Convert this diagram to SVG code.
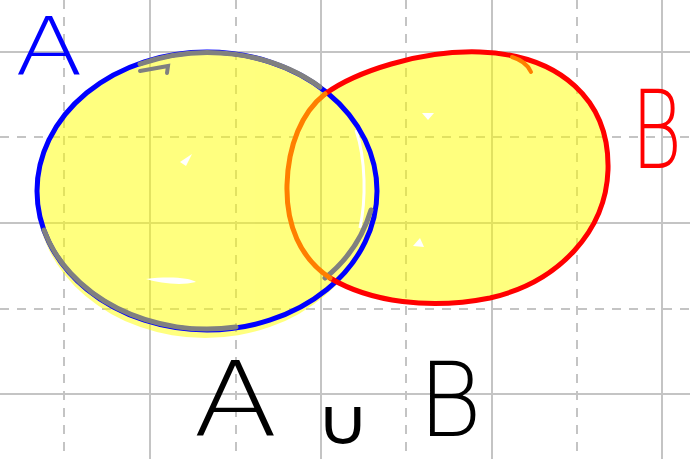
<svg xmlns="http://www.w3.org/2000/svg" width="690" height="459" viewBox="0 0 690 459">
<style>
.g{stroke:#c4c4c4;stroke-width:2;fill:none}
.d{stroke:#c4c4c4;stroke-width:2;fill:none;stroke-dasharray:9 8}
.lbl{font-family:"DejaVu Sans","Liberation Sans",sans-serif;font-weight:200}
</style>
<rect width="690" height="459" fill="#ffffff"/>
<g id="grid">
<path class="g" d="M150 0V459M321 0V459M492 0V459M662 0V459M0 52H690M0 223H690M0 394H690"/>
<path class="d" d="M64 0V459M236 0V459M406 0V459M577 0V459M0 137H690M0 309H690"/>
</g>
<g id="fills" opacity="0.5">
<ellipse cx="205" cy="195" rx="169" ry="143" fill="#ffff00"/>
<path fill="#ffff00" d="M325,94 C355,72 420,50 480,52 C560,55 610,100 608,170 C606,230 560,282 490,298 C430,310 370,302 330,278 C300,258 286,225 287,185 C288,145 302,112 325,94Z"/>
</g>
<g id="highlights" fill="#ffffff">
<path d="M180,162 L192,154 L186,166Z"/>
<path d="M146,279 C160,283 180,286 196,282 C190,278 170,276 146,279Z"/>
<path d="M422,113 L434,113 L428,120Z"/>
<path d="M413,246 L420,238 L424,247Z"/>
<path d="M356,130 C366,160 366,200 360,228" fill="none" stroke="#ffffff" stroke-width="3"/>
</g>
<g id="setA">
<ellipse cx="207" cy="191" rx="170" ry="139" fill="none" stroke="#0000ff" stroke-width="5"/>
<path d="M371,210 C362,240 345,262 325,278 M236,327 A170,139 0 0 1 44,230 M140,64 A170,139 0 0 1 320,87" fill="none" stroke="#808080" stroke-width="5" stroke-linecap="round"/>
<path d="M140,71 L168,66 L167,73" fill="none" stroke="#808080" stroke-width="4" stroke-linecap="round"/>
<text class="lbl" x="15" y="74" font-size="80" fill="#0000ff" textLength="68" lengthAdjust="spacingAndGlyphs">A</text>
</g>
<g id="setB">
<path d="M325,94 C355,72 420,50 480,52 C560,55 610,100 608,170 C606,230 560,282 490,298 C430,310 370,302 330,278" fill="none" stroke="#ff0000" stroke-width="5" stroke-linecap="round"/>
<path d="M330,278 C300,258 286,225 287,185 C288,145 302,112 325,94" fill="none" stroke="#ff7f00" stroke-width="5" stroke-linecap="round"/>
<path d="M512,57 C522,60 528,65 531,72" fill="none" stroke="#ff7f00" stroke-width="4" stroke-linecap="round"/>
<text class="lbl" transform="translate(631,168) scale(1,1.4)" x="0" y="0" font-size="78" fill="#ff0000">B</text>
</g>
<g id="caption">
<text class="lbl" x="193" y="436" font-size="103" fill="#000000" textLength="85" lengthAdjust="spacingAndGlyphs">A</text>
<text class="lbl" x="316" y="444" font-size="64" fill="#000000" textLength="54" lengthAdjust="spacingAndGlyphs">∪</text>
<text class="lbl" x="418" y="436" font-size="103" fill="#000000" textLength="64" lengthAdjust="spacingAndGlyphs">B</text>
</g>
</svg>
